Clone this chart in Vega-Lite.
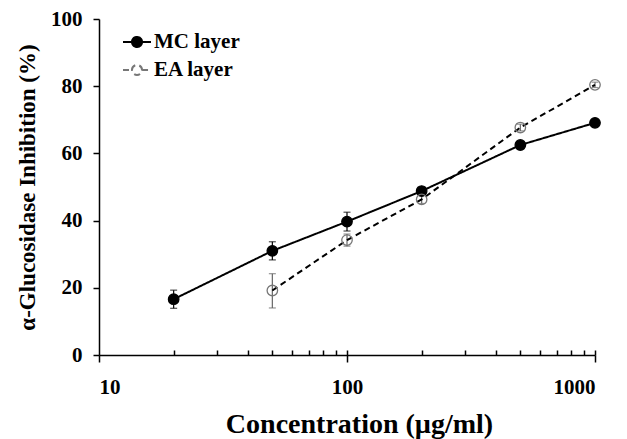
{
  "$schema": "https://vega.github.io/schema/vega-lite/v6.json",
  "width": 496,
  "height": 336,
  "autosize": {"type": "none"},
  "padding": {"left": 99, "top": 19, "right": 32, "bottom": 84},
  "background": "white",
  "config": {
    "view": {"stroke": null},
    "font": "Liberation Serif",
    "axis": {
      "domainColor": "black", "tickColor": "black", "labelColor": "black", "titleColor": "black",
      "grid": false, "labelFont": "Liberation Serif", "labelFontWeight": "bold",
      "titleFont": "Liberation Serif", "titleFontWeight": "bold",
      "domainWidth": 1.5, "tickWidth": 1.5
    }
  },
  "data": {
    "values": [
      {"conc": 20, "series": "MC layer", "mean": 16.6, "lo": 13.9, "hi": 19.3},
      {"conc": 50, "series": "MC layer", "mean": 31.0, "lo": 28.3, "hi": 33.7},
      {"conc": 100, "series": "MC layer", "mean": 39.7, "lo": 36.9, "hi": 42.5},
      {"conc": 200, "series": "MC layer", "mean": 48.8, "lo": 47.8, "hi": 49.8},
      {"conc": 500, "series": "MC layer", "mean": 62.5, "lo": 61.7, "hi": 63.3},
      {"conc": 1000, "series": "MC layer", "mean": 69.1, "lo": 68.3, "hi": 69.9},
      {"conc": 50, "series": "EA layer", "mean": 19.2, "lo": 14.0, "hi": 24.2},
      {"conc": 100, "series": "EA layer", "mean": 34.2, "lo": 32.4, "hi": 36.0},
      {"conc": 200, "series": "EA layer", "mean": 46.3, "lo": 45.1, "hi": 47.5},
      {"conc": 500, "series": "EA layer", "mean": 67.7, "lo": 66.7, "hi": 68.7},
      {"conc": 1000, "series": "EA layer", "mean": 80.4, "lo": 79.6, "hi": 81.2}
    ]
  },
  "layer": [
    {
      "transform": [{"filter": "datum.series == 'MC layer'"}],
      "mark": {"type": "errorbar", "ticks": {"size": 7}, "thickness": 1.2, "color": "black"},
      "encoding": {
        "x": {"field": "conc", "type": "quantitative", "scale": {"type": "log", "domain": [10, 1000], "nice": false}, "axis": null},
        "y": {
          "field": "lo", "type": "quantitative", "scale": {"domain": [0, 100], "nice": false},
          "axis": {
            "values": [0, 20, 40, 60, 80, 100], "tickSize": 6, "labelPadding": 11, "labelFontSize": 21,
            "title": "α-Glucosidase Inhibition (%)", "titleFontSize": 23, "titleAngle": -90,
            "titleX": -65, "titleY": 168, "titleAlign": "center", "titleBaseline": "alphabetic"
          }
        },
        "y2": {"field": "hi"}
      }
    },
    {
      "transform": [{"filter": "datum.series == 'EA layer'"}],
      "mark": {"type": "errorbar", "ticks": {"size": 7}, "thickness": 1.2, "color": "#666666"},
      "encoding": {
        "x": {"field": "conc", "type": "quantitative", "scale": {"type": "log", "domain": [10, 1000], "nice": false}, "axis": null},
        "y": {
          "field": "lo", "type": "quantitative", "scale": {"domain": [0, 100], "nice": false},
          "axis": {
            "values": [0, 20, 40, 60, 80, 100], "tickSize": 6, "labelPadding": 11, "labelFontSize": 21,
            "title": "α-Glucosidase Inhibition (%)", "titleFontSize": 23, "titleAngle": -90,
            "titleX": -65, "titleY": 168, "titleAlign": "center", "titleBaseline": "alphabetic"
          }
        },
        "y2": {"field": "hi"}
      }
    },
    {
      "mark": {"type": "line", "color": "black", "strokeWidth": 2},
      "encoding": {
        "x": {
          "field": "conc", "type": "quantitative",
          "scale": {"type": "log", "domain": [10, 1000], "nice": false},
          "axis": {
            "orient": "bottom", "values": [10, 100, 1000], "format": "d",
            "tickSize": 7, "labelPadding": 14, "labelFontSize": 21,
            "title": "Concentration (µg/ml)", "titleFontSize": 28,
            "titleX": 260, "titleY": 77, "titleAlign": "center", "titleBaseline": "alphabetic"
          }
        },
        "y": {
          "field": "mean", "type": "quantitative",
          "scale": {"domain": [0, 100], "nice": false},
          "axis": {
            "values": [0, 20, 40, 60, 80, 100], "tickSize": 6, "labelPadding": 11, "labelFontSize": 21,
            "title": "α-Glucosidase Inhibition (%)", "titleFontSize": 23, "titleAngle": -90,
            "titleX": -65, "titleY": 168, "titleAlign": "center", "titleBaseline": "alphabetic"
          }
        },
        "strokeDash": {
          "field": "series", "type": "nominal",
          "scale": {"domain": ["MC layer", "EA layer"], "range": [[1, 0], [6, 4]]},
          "legend": {
            "orient": "none", "legendX": 23, "legendY": 8, "title": null,
            "symbolType": "M-1,0H-0.36M0.36,0H1M-0.36,0A0.36,0.36,0,1,1,0.36,0A0.36,0.36,0,1,1,-0.36,0Z",
            "symbolSize": 784, "symbolStrokeWidth": 2,
            "labelFont": "Liberation Serif", "labelFontWeight": "bold", "labelFontSize": 21,
            "labelColor": "black", "labelOffset": 2, "rowPadding": 3
          }
        }
      }
    },
    {
      "mark": {"type": "point", "size": 110, "strokeWidth": 1.3, "opacity": 1},
      "encoding": {
        "x": {
          "field": "conc", "type": "quantitative",
          "scale": {"type": "log", "domain": [10, 1000], "nice": false},
          "axis": {
            "orient": "bottom", "values": [20, 30, 40, 50, 60, 70, 80, 90, 100, 200, 300, 400, 500, 600, 700, 800, 900, 1000],
            "tickSize": -5, "labels": false, "domain": false, "title": null
          }
        },
        "y": {
          "field": "mean", "type": "quantitative", "scale": {"domain": [0, 100], "nice": false},
          "axis": {
            "values": [0, 20, 40, 60, 80, 100], "tickSize": 6, "labelPadding": 11, "labelFontSize": 21,
            "title": "α-Glucosidase Inhibition (%)", "titleFontSize": 23, "titleAngle": -90,
            "titleX": -65, "titleY": 168, "titleAlign": "center", "titleBaseline": "alphabetic"
          }
        },
        "fill": {
          "field": "series", "type": "nominal",
          "scale": {"domain": ["MC layer", "EA layer"], "range": ["black", "rgba(255,255,255,0)"]},
          "legend": {
            "orient": "none", "legendX": 23, "legendY": 8, "title": null,
            "symbolType": "M-1,0H-0.36M0.36,0H1M-0.36,0A0.36,0.36,0,1,1,0.36,0A0.36,0.36,0,1,1,-0.36,0Z",
            "symbolSize": 784, "symbolStrokeWidth": 2,
            "labelFont": "Liberation Serif", "labelFontWeight": "bold", "labelFontSize": 21,
            "labelColor": "black", "labelOffset": 2, "rowPadding": 3
          }
        },
        "stroke": {
          "field": "series", "type": "nominal",
          "scale": {"domain": ["MC layer", "EA layer"], "range": ["black", "#777777"]},
          "legend": {
            "orient": "none", "legendX": 23, "legendY": 8, "title": null,
            "symbolType": "M-1,0H-0.36M0.36,0H1M-0.36,0A0.36,0.36,0,1,1,0.36,0A0.36,0.36,0,1,1,-0.36,0Z",
            "symbolSize": 784, "symbolStrokeWidth": 2,
            "labelFont": "Liberation Serif", "labelFontWeight": "bold", "labelFontSize": 21,
            "labelColor": "black", "labelOffset": 2, "rowPadding": 3
          }
        }
      }
    }
  ],
  "resolve": {"axis": {"x": "independent"}}
}
